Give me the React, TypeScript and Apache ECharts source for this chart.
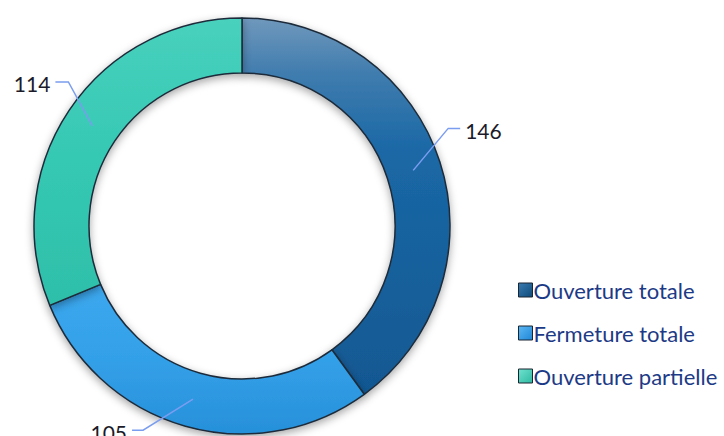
import React, { useEffect, useRef } from "react";
import * as echarts from "echarts";

const categories = ["Ouverture totale", "Fermeture totale", "Ouverture partielle"];
const values = [146, 105, 114];

const sliceGradients = [
  [[0, "#7098bc"], [0.15, "#3f7cae"], [0.35, "#1b68a6"], [1, "#115892"]],
  [[0, "#3ca8ee"], [0.5, "#33a0e8"], [1, "#2790da"]],
  [[0, "#48d1bd"], [0.5, "#35c8b3"], [1, "#2ebfa9"]],
];
const legendGradients = [
  ["#3a7bb0", "#0e4a7a"],
  ["#5cb8f5", "#1f86d6"],
  ["#6fe3cf", "#2fb8a1"],
];
// label line bend / end offsets from each line's start (style only)
const lineOffsets = [
  [[35, -42], [47, -42]],
  [[-50, 31], [-61, 31]],
  [[-24, -44], [-37, -44]],
];

export default function App() {
  const ref = useRef<HTMLDivElement>(null);
  useEffect(() => {
    const chart = echarts.init(ref.current!, undefined, { renderer: "svg" });
    const ringData = categories.map((name, i) => ({
      name,
      value: values[i],
      itemStyle: {
        color: new echarts.graphic.LinearGradient(
          0, 0, 0, 1,
          sliceGradients[i].map((s) => ({ offset: s[0] as number, color: s[1] as string }))
        ),
      },
    }));
    const labelData = categories.map((name, i) => ({ name, value: values[i] }));
    chart.setOption({
      animation: false,
      backgroundColor: "#ffffff",
      legend: {
        orient: "vertical",
        left: 513,
        top: 274,
        itemWidth: 14,
        itemHeight: 14,
        itemGap: 21,
        icon: "rect",
        textStyle: {
          color: "#1d3a86",
          fontSize: 22,
          fontFamily: "Lato, 'Open Sans', sans-serif",
          padding: [0, 0, 0, -4],
        },
        data: categories.map((name, i) => ({
          name,
          itemStyle: {
            color: new echarts.graphic.LinearGradient(0, 0, 1, 1, [
              { offset: 0, color: legendGradients[i][0] },
              { offset: 1, color: legendGradients[i][1] },
            ]),
            borderColor: "#1a2530",
            borderWidth: 1,
          },
        })),
      },
      series: [
        {
          type: "pie",
          name: "ring",
          z: 1,
          center: [242, 226],
          radius: [153, 208],
          startAngle: 90,
          clockwise: true,
          silent: true,
          label: { show: false },
          labelLine: { show: false },
          itemStyle: {
            borderColor: "#1d2c3a",
            borderWidth: 1.5,
            shadowBlur: 8,
            shadowColor: "rgba(0,0,0,0.35)",
            shadowOffsetY: 3,
          },
          data: ringData,
        },
        {
          type: "pie",
          name: "labels",
          z: 5,
          center: [242, 226],
          radius: [0, 180],
          startAngle: 90,
          clockwise: true,
          silent: true,
          legendHoverLink: false,
          itemStyle: { color: "rgba(0,0,0,0)" },
          label: {
            show: true,
            position: "outside",
            formatter: "{c}",
            color: "#1b1b2a",
            fontSize: 21,
            fontFamily: "Lato, 'Open Sans', sans-serif",
          },
          labelLine: {
            show: true,
            length: 30,
            length2: 12,
            smooth: false,
            lineStyle: { color: "#7b9df0", width: 1.5 },
          },
          labelLayout: (params: any) => {
            const i = params.dataIndex;
            const pts = params.labelLinePoints;
            if (!pts || !pts[0]) return {};
            const p0 = pts[0];
            const o = lineOffsets[i];
            const p1 = [p0[0] + o[0][0], p0[1] + o[0][1]];
            const p2 = [p0[0] + o[1][0], p0[1] + o[1][1]];
            const right = o[1][0] > 0;
            return {
              x: right ? p2[0] + 5 : p2[0] - 5,
              y: p2[1] + 2,
              align: right ? "left" : "right",
              verticalAlign: "middle",
              labelLinePoints: [p0, p1, p2],
            };
          },
          data: labelData,
        },
      ],
    });
    return () => chart.dispose();
  }, []);
  return (
    <div
      ref={ref}
      style={{ position: "absolute", left: 0, top: 0, width: 724, height: 436 }}
    />
  );
}
